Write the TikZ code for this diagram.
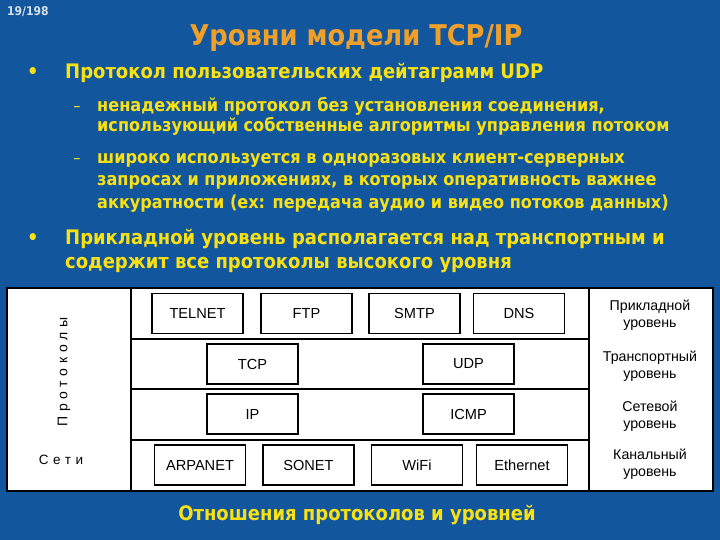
\documentclass[tikz,border=0pt]{standalone}
\usepackage{fontspec}
\setmainfont{DejaVu Sans Condensed}
\newfontfamily\diagfont{Liberation Sans}
\newfontfamily\diagspaced[LetterSpace=34]{Liberation Sans}
\definecolor{bgblue}{RGB}{18,86,158}
\definecolor{titleor}{RGB}{240,160,40}
\definecolor{txtyel}{RGB}{250,225,20}
\definecolor{pgnum}{RGB}{215,225,235}
\tikzset{
  proto/.style={draw=black, line width=1.2pt, fill=white, minimum width=91pt, minimum height=40pt, inner sep=0pt, font=\diagfont\fontsize{14.6}{14.6}\selectfont},
  lvl/.style={align=center, font=\diagfont\fontsize{14.2}{17}\selectfont, inner sep=0pt},
  frame/.style={draw=black, line width=1.2pt},
  btxt/.style={anchor=base west, inner sep=0pt, text=txtyel, font=\bfseries\fontsize{20}{24}\selectfont},
  stxt/.style={anchor=base west, inner sep=0pt, text=txtyel, font=\bfseries\fontsize{17.9}{20}\selectfont},
  bulletmark/.style={anchor=base, inner sep=0pt, text=txtyel, font=\bfseries\fontsize{20}{20}\selectfont},
}
\begin{document}
\begin{tikzpicture}[x=1pt,y=-1pt]
\useasboundingbox (0,0) rectangle (720,540);
\fill[bgblue] (0,0) rectangle (720,540);
% header
\node[anchor=base west, inner sep=0pt, text=pgnum, font=\bfseries\fontsize{12}{12}\selectfont] (pg) at (7,16) {19/198};
\node[anchor=base, inner sep=0pt, text=titleor, font=\bfseries\fontsize{28.6}{30}\selectfont] (title) at (356,46) {Уровни модели TCP/IP};
% bullets
\node[bulletmark] (b1) at (33,79) {•};
\node[btxt] (t1) at (65,79) {Протокол пользовательских дейтаграмм UDP};
\node[bulletmark, font=\fontsize{16}{16}\selectfont] (d1) at (77,112) {–};
\node[stxt] (t2) at (97,112) {ненадежный протокол без установления соединения,};
\node[stxt] (t3) at (97,132) {использующий собственные алгоритмы управления потоком};
\node[bulletmark, font=\fontsize{16}{16}\selectfont] (d2) at (77,164) {–};
\node[stxt] (t4) at (97,164) {широко используется в одноразовых клиент-серверных};
\node[stxt] (t5) at (97,186) {запросах и приложениях, в которых оперативность важнее};
\node[stxt] (t6) at (97,208) {аккуратности (ex: передача аудио и видео потоков данных)};
\node[bulletmark] (b2) at (33,244) {•};
\node[btxt] (t7) at (65,244) {Прикладной уровень располагается над транспортным и};
\node[btxt] (t8) at (65,268) {содержит все протоколы высокого уровня};
% diagram frame
\draw[frame, fill=white] (7,288) rectangle (713,491);
\draw[frame] (131,288) -- (131,491);
\draw[frame] (589,288) -- (589,491);
\draw[frame] (131,339) -- (589,339);
\draw[frame] (131,389) -- (589,389);
\draw[frame] (131,440) -- (589,440);
% protocol boxes
\node[proto] (telnet) at (197.5,313.5) {TELNET};
\node[proto] (ftp) at (306.5,313.5) {FTP};
\node[proto] (smtp) at (414.5,313.5) {SMTP};
\node[proto] (dns) at (519,313.5) {DNS};
\node[proto] (tcp) at (252.5,364) {TCP};
\node[proto] (udp) at (468.5,364) {UDP};
\node[proto] (ip) at (252.5,414) {IP};
\node[proto] (icmp) at (468.5,414) {ICMP};
\node[proto] (arpanet) at (200,465) {ARPANET};
\node[proto] (sonet) at (308.5,465) {SONET};
\node[proto] (wifi) at (417,465) {WiFi};
\node[proto] (ethernet) at (522,465) {Ethernet};
% level labels
\node[lvl] (l1) at (650,315) {Прикладной\\уровень};
\node[lvl] (l2) at (650,366) {Транспортный\\уровень};
\node[lvl] (l3) at (650,416) {Сетевой\\уровень};
\node[lvl] (l4) at (650,464) {Канальный\\уровень};
% left labels
\node[rotate=90, inner sep=0pt, font=\diagspaced\fontsize{14}{14}\selectfont] (prot) at (64,372) {Протоколы};
\node[inner sep=0pt, font=\diagspaced\fontsize{13.5}{13.5}\selectfont] (seti) at (61,460) {Сети};
% caption
\node[anchor=base, inner sep=0pt, text=txtyel, font=\bfseries\fontsize{20}{24}\selectfont] (cap) at (357,520) {Отношения протоколов и уровней};
\end{tikzpicture}
\end{document}
